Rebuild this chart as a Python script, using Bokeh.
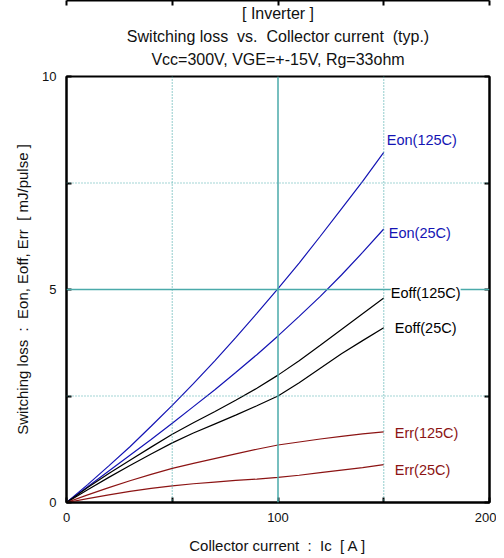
from bokeh.plotting import figure
from bokeh.models import (Span, Label, Title, FixedTicker, LinearAxis, Range1d)
from bokeh.embed import file_html
from bokeh.resources import INLINE

# ---- data ----
ic = [0, 10, 20, 30, 40, 50, 60, 70, 80, 90, 100, 110, 120, 130, 140, 150]
eon_125 = [0, 0.42, 0.86, 1.31, 1.79, 2.28, 2.79, 3.32, 3.87, 4.44, 5.02, 5.62, 6.25, 6.89, 7.54, 8.22]
eon_25 = [0, 0.37, 0.74, 1.11, 1.48, 1.86, 2.25, 2.64, 3.05, 3.47, 3.91, 4.37, 4.84, 5.34, 5.87, 6.42]
eoff_125 = [0, 0.35, 0.68, 0.99, 1.30, 1.60, 1.87, 2.13, 2.40, 2.68, 2.99, 3.33, 3.69, 4.06, 4.43, 4.80]
eoff_25 = [0, 0.30, 0.59, 0.87, 1.14, 1.40, 1.63, 1.84, 2.05, 2.27, 2.50, 2.81, 3.15, 3.49, 3.80, 4.10]
err_125 = [0, 0.18, 0.35, 0.51, 0.66, 0.80, 0.92, 1.03, 1.14, 1.25, 1.35, 1.42, 1.49, 1.55, 1.61, 1.66]
err_25 = [0, 0.09, 0.18, 0.26, 0.33, 0.39, 0.44, 0.48, 0.52, 0.55, 0.59, 0.64, 0.70, 0.76, 0.82, 0.89]
series_names = ["Eon(125C)", "Eon(25C)", "Eoff(125C)", "Eoff(25C)", "Err(125C)", "Err(25C)"]
x_ticks = [0, 50, 100, 150, 200]
x_tick_labels = {0: "0", 50: "", 100: "100", 150: "", 200: "200"}
y_ticks = [0, 2.5, 5, 7.5, 10]
y_tick_labels = {0: "0", 2.5: "", 5: "5", 7.5: "", 10: "10"}

NB = "\u00a0"
FONT = "Liberation Sans"
BLUE = "#1414b4"
BLACK = "#000000"
RED = "#8c1414"
TEAL = "#4aaaaa"

p = figure(frame_width=423, frame_height=426, output_backend="svg",
           toolbar_location=None, x_range=Range1d(0, 200), y_range=Range1d(0, 10),
           min_border_left=66, min_border_right=7, min_border_bottom=40,
           min_border_top=0,
           background_fill_color="white", border_fill_color="white")
p.xgrid.visible = False
p.ygrid.visible = False
p.outline_line_color = "black"
p.outline_line_width = 2

# spacer between plot and title block
p.add_layout(Title(text=NB, text_font_size="4px", standoff=0), "above")
# titles (first added is nearest the plot)
title_lines = ["Vcc=300V, VGE=+-15V, Rg=33ohm",
               f"Switching loss{NB}{NB}vs.{NB}{NB}Collector current{NB}{NB}(typ.)",
               "[ Inverter ]"]
for t in title_lines:
    p.add_layout(Title(text=t, align="center", text_font=FONT,
                       text_font_size="16px", text_font_style="normal",
                       text_color="#111111", standoff=4), "above")

# grid spans
for v in [50, 150]:
    p.add_layout(Span(location=v, dimension="height", line_color=TEAL,
                      line_dash="1 2", line_width=1.2))
for v in [2.5, 7.5]:
    p.add_layout(Span(location=v, dimension="width", line_color=TEAL,
                      line_dash="1 2", line_width=1.2))
p.add_layout(Span(location=100, dimension="height", line_color=TEAL, line_width=1.5))
p.add_layout(Span(location=5, dimension="width", line_color=TEAL, line_width=1.5))

def style_axis(ax, ticks, labels):
    ax.ticker = FixedTicker(ticks=ticks)
    ax.major_label_overrides = labels
    ax.major_tick_in = 5
    ax.major_tick_out = 0
    ax.minor_tick_in = 0
    ax.minor_tick_out = 0
    ax.axis_line_width = 2
    ax.major_tick_line_width = 2
    ax.major_label_text_font = FONT
    ax.major_label_text_font_size = "13px"
    ax.major_label_text_color = "#111111"
    ax.axis_label_text_font = FONT
    ax.axis_label_text_font_size = "15px"
    ax.axis_label_text_font_style = "normal"
    ax.axis_label_text_color = "#111111"

style_axis(p.xaxis[0], x_ticks, x_tick_labels)
style_axis(p.yaxis[0], y_ticks, y_tick_labels)
p.xaxis[0].axis_label = f"Collector current{NB}{NB}:{NB}{NB}Ic{NB}{NB}[ A ]"
p.yaxis[0].axis_label = f"Switching loss{NB}{NB}:{NB}{NB}Eon, Eoff, Err{NB}{NB}[ mJ/pulse ]"
p.xaxis[0].major_label_standoff = 10
p.xaxis[0].axis_label_standoff = 12
p.yaxis[0].major_label_standoff = 10
p.yaxis[0].axis_label_standoff = 8

top_ax = LinearAxis()
style_axis(top_ax, x_ticks, {k: "" for k in x_tick_labels})
top_ax.major_label_text_font_size = "0px"
top_ax.major_label_standoff = 0
p.add_layout(top_ax, "above")
right_ax = LinearAxis()
style_axis(right_ax, y_ticks, {k: "" for k in y_tick_labels})
right_ax.major_label_text_font_size = "0px"
right_ax.major_label_standoff = 0
p.add_layout(right_ax, "right")

series = [eon_125, eon_25, eoff_125, eoff_25, err_125, err_25]
colors = [BLUE, BLUE, BLACK, BLACK, RED, RED]
offsets = [(3, 12), (5, -4), (7, 5), (11, 0), (11, -1), (11, -5)]
for name, ys, c, (dx, dy) in zip(series_names, series, colors, offsets):
    p.line(ic, ys, line_color=c, line_width=1.2)
    lab = Label(x=ic[-1], y=ys[-1], x_offset=dx, y_offset=dy, text=name,
                text_font=FONT, text_font_size="14.5px", text_color=c,
                text_baseline="middle", text_align="left")
    if name == "Eoff(125C)":
        lab.background_fill_color = "white"
    p.add_layout(lab)

open("out.html", "w").write(file_html(p, INLINE))
